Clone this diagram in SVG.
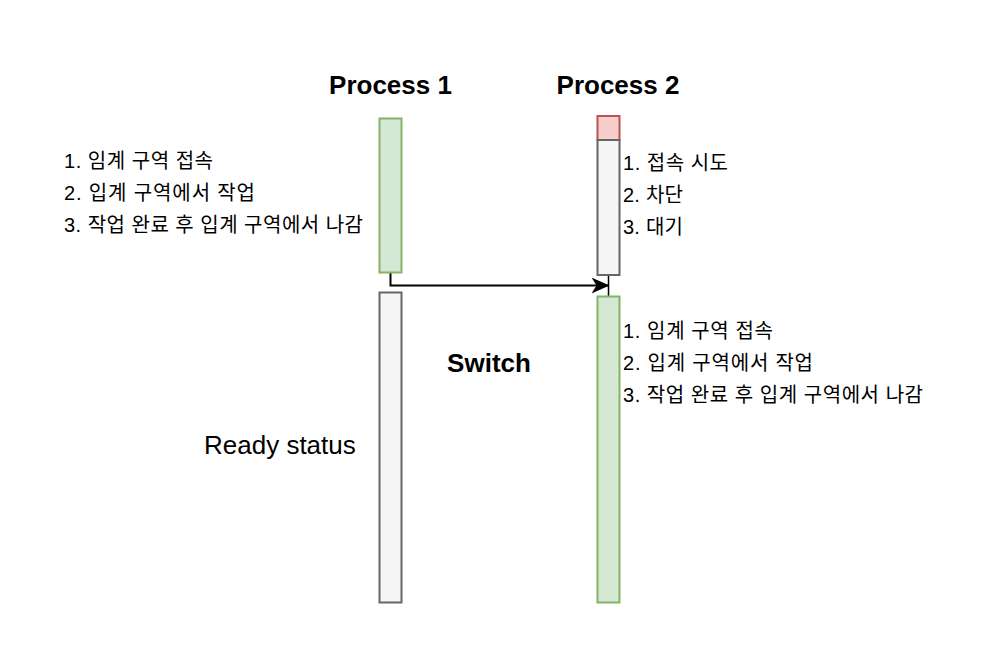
<svg xmlns="http://www.w3.org/2000/svg" width="998" height="652" viewBox="0 0 998 652">
<style>
.t{font-family:"Liberation Sans","Noto Sans CJK KR",sans-serif;font-size:20px;fill:#000}
.h{font-family:"Liberation Sans","Noto Sans CJK KR",sans-serif;font-size:26px;font-weight:bold;fill:#000}
.g{fill:#d5e8d4;stroke:#82b366;stroke-width:2}
.w{fill:#f5f5f5;stroke:#666;stroke-width:2}
.r{fill:#f8cecc;stroke:#b85450;stroke-width:2}
</style>
<defs>
<marker id="arr" viewBox="0 0 18 18" refX="17.5" refY="9" markerWidth="18" markerHeight="18" markerUnits="userSpaceOnUse" orient="auto"><path d="M0 1 L18 9 L0 17 L5 9 Z" fill="#000"/></marker>
</defs>
<rect width="998" height="652" fill="#fff"/>
<g id="connectors">
<path d="M390.5 272 V285.5 H609" fill="none" stroke="#000" stroke-width="2" marker-end="url(#arr)"/>
<path d="M608.5 275 V296" fill="none" stroke="#000" stroke-width="1.5"/>
</g>
<g id="process1-label"><text class="h" x="390.5" y="94" text-anchor="middle">Process 1</text></g>
<g id="process2-label"><text class="h" x="618" y="94" text-anchor="middle">Process 2</text></g>
<g id="p1-active"><rect class="g" x="379.5" y="118.5" width="22" height="154"/></g>
<g id="p1-ready"><rect class="w" x="379.5" y="292.5" width="22" height="310"/></g>
<g id="p2-blocked"><rect class="r" x="597.5" y="116" width="22" height="24"/></g>
<g id="p2-wait"><rect class="w" x="597.5" y="140" width="22" height="135"/></g>
<g id="p2-active"><rect class="g" x="597.5" y="296.5" width="22" height="306"/></g>
<g id="p1-notes">
<text class="t" x="64" y="168" textLength="149">1. 임계 구역 접속</text>
<text class="t" x="64" y="200" textLength="191">2. 입계 구역에서 작업</text>
<text class="t" x="64" y="232" textLength="299">3. 작업 완료 후 입계 구역에서 나감</text>
</g>
<g id="p2-wait-notes">
<text class="t" x="623" y="170" textLength="105">1. 접속 시도</text>
<text class="t" x="623" y="202" textLength="60">2. 차단</text>
<text class="t" x="623" y="234" textLength="60">3. 대기</text>
</g>
<g id="p2-notes">
<text class="t" x="623" y="338" textLength="150">1. 임계 구역 접속</text>
<text class="t" x="623" y="370" textLength="190">2. 입계 구역에서 작업</text>
<text class="t" x="623" y="402" textLength="300">3. 작업 완료 후 입계 구역에서 나감</text>
</g>
<g id="switch-label"><text class="h" x="489" y="372" text-anchor="middle">Switch</text></g>
<g id="ready-label"><text class="t" x="204" y="454" style="font-size:26px;font-weight:normal">Ready status</text></g>
</svg>
